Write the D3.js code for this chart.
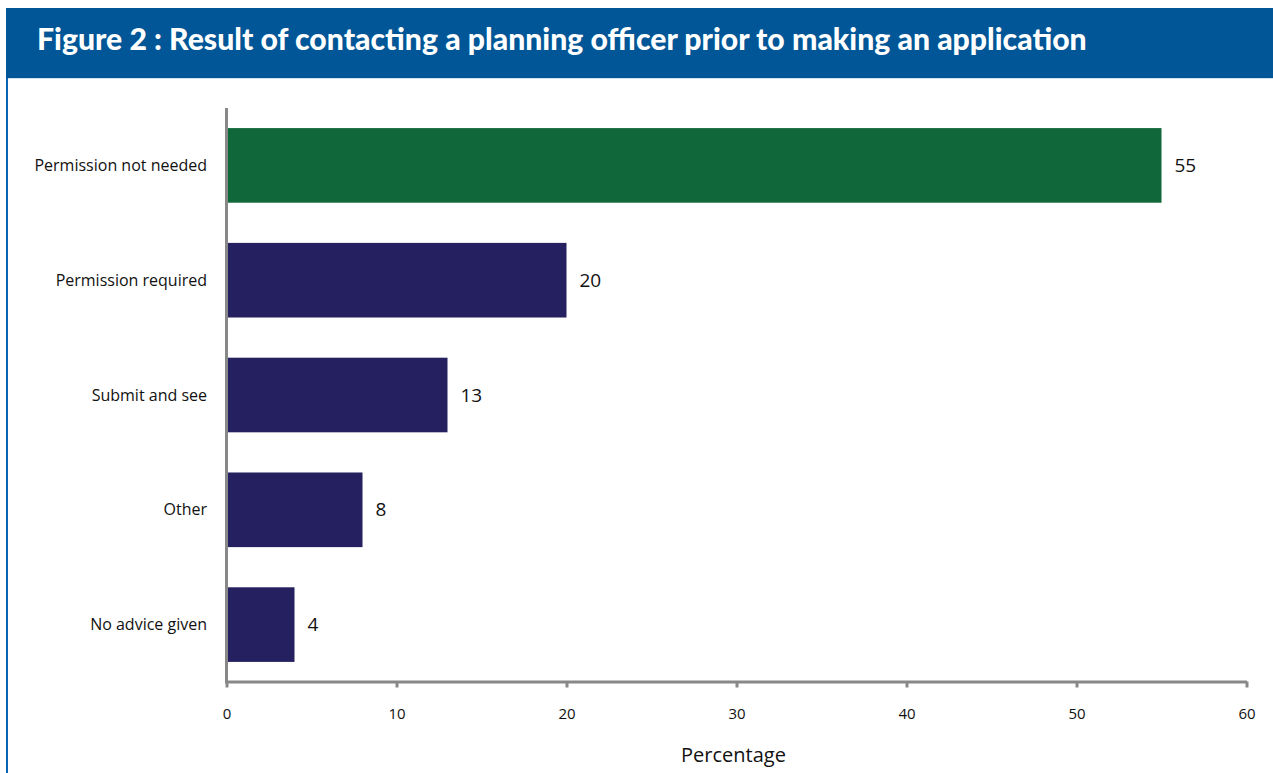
<!DOCTYPE html>
<html>
<head>
<meta charset="utf-8">
<script src="https://cdn.jsdelivr.net/npm/d3@7"></script>
<style>
  html, body { margin: 0; padding: 0; background: #fff; }
  svg { display: block; }
</style>
</head>
<body>
<svg id="chart" width="1273" height="773"></svg>
<script>
// Survey result categories, top to bottom, and their shares (%)
const categories = ["Permission not needed", "Permission required", "Submit and see", "Other", "No advice given"];
const values = [55, 20, 13, 8, 4];
const barColors = ["#10673a", "#25205f", "#25205f", "#25205f", "#25205f"];
const xTicks = [0, 10, 20, 30, 40, 50, 60];
const titleText = "Figure 2 : Result of contacting a planning officer prior to making an application";
const xAxisTitle = "Percentage";

const svg = d3.select("#chart");
const W = 1273, H = 773;

// Header band and frame
svg.append("rect").attr("x", 6).attr("y", 8).attr("width", W - 6).attr("height", 70).attr("fill", "#005696");
svg.append("line").attr("x1", 6).attr("x2", W).attr("y1", 78.5).attr("y2", 78.5)
  .attr("stroke", "#cfe0ee").attr("stroke-width", 1);
svg.append("line").attr("x1", 7).attr("x2", 7).attr("y1", 78).attr("y2", H)
  .attr("stroke", "#0a64b4").attr("stroke-width", 2);

const title = svg.append("text")
  .attr("x", 37).attr("y", 50)
  .attr("fill", "#fff")
  .attr("font-family", "Lato, 'Open Sans', sans-serif")
  .attr("font-weight", 900)
  .attr("font-size", 29)
  .text(titleText);
// fit the title to the header width
const tw = title.node().getComputedTextLength();
title.attr("font-size", 29 * 1050 / tw);

// Scales
const x = d3.scaleLinear().domain([0, 60]).range([226.5, 1246.5]);
const y = d3.scaleBand().domain(categories).range([108, 682])
  .paddingInner(0.35).paddingOuter(0.175);

// Bars
svg.append("g").selectAll("rect")
  .data(categories)
  .join("rect")
  .attr("x", x(0) + 1.5)
  .attr("y", d => y(d))
  .attr("width", (d, i) => x(values[i]) - x(0) - 1.5)
  .attr("height", y.bandwidth())
  .attr("fill", (d, i) => barColors[i]);

// Value labels
svg.append("g").selectAll("text")
  .data(categories)
  .join("text")
  .attr("x", (d, i) => x(values[i]) + 13)
  .attr("y", d => y(d) + y.bandwidth() / 2)
  .attr("dy", "0.35em")
  .attr("font-family", "'Open Sans', sans-serif")
  .attr("font-size", 19)
  .attr("fill", "#111")
  .text((d, i) => values[i]);

// Category labels
svg.append("g").selectAll("text")
  .data(categories)
  .join("text")
  .attr("x", 207)
  .attr("y", d => y(d) + y.bandwidth() / 2)
  .attr("dy", "0.35em")
  .attr("text-anchor", "end")
  .attr("font-family", "'Open Sans', sans-serif")
  .attr("font-size", 16)
  .attr("fill", "#111")
  .text(d => d);

// Y axis line
svg.append("line")
  .attr("x1", x(0)).attr("x2", x(0))
  .attr("y1", 108).attr("y2", 683.5)
  .attr("stroke", "#888").attr("stroke-width", 3);

// X axis
const xAxis = d3.axisBottom(x).tickValues(xTicks).tickSize(6).tickPadding(21).tickSizeOuter(0);
const gx = svg.append("g").attr("transform", "translate(0,681.5)").call(xAxis);
gx.select(".domain").attr("stroke", "#888").attr("stroke-width", 3);
gx.selectAll(".tick line").attr("stroke", "#888").attr("stroke-width", 3);
gx.selectAll(".tick text")
  .attr("font-family", "'Open Sans', sans-serif")
  .attr("font-size", 15)
  .attr("fill", "#111");

svg.append("text")
  .attr("x", (x.range()[0] + x.range()[1]) / 2 - 3).attr("y", 762)
  .attr("text-anchor", "middle")
  .attr("font-family", "'Open Sans', sans-serif")
  .attr("font-size", 20)
  .attr("fill", "#111")
  .text(xAxisTitle);
</script>
</body>
</html>
